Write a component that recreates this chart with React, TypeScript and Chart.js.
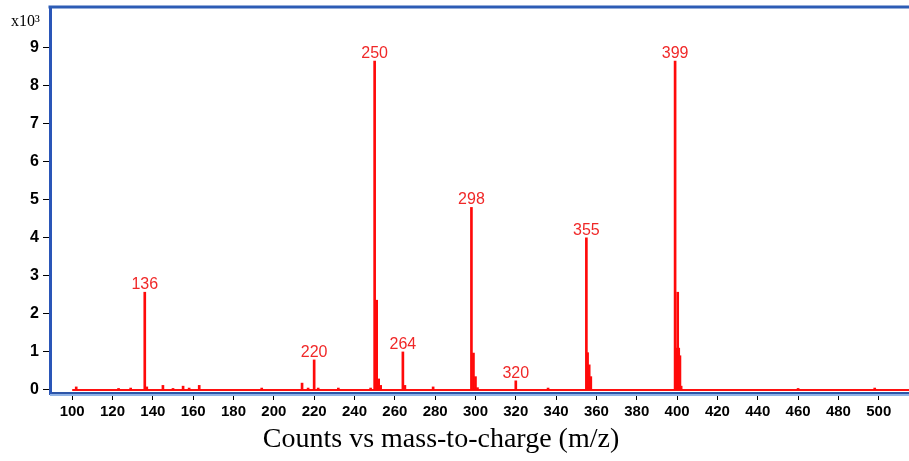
import React, { useEffect, useRef } from 'react';
import { Chart, registerables } from 'chart.js';

Chart.register(...registerables);

// m/z values of the spectrum sticks
const mzValues = [
  102, 123, 129, 136, 137, 145, 150, 155, 158, 163, 194, 214, 217, 220, 222, 232,
  248, 250, 251, 252, 253, 264, 265, 279, 298, 299, 300, 301, 320, 336,
  355, 355.6, 356.4, 357.2, 399, 399.7, 400.3, 400.8, 401.4, 402, 460, 498,
];
// intensities in x10^3 counts
const intensities = [
  0.08, 0.04, 0.05, 2.57, 0.08, 0.12, 0.04, 0.1, 0.05, 0.12, 0.05, 0.18, 0.05, 0.79, 0.05, 0.05,
  0.05, 8.65, 2.36, 0.29, 0.12, 1.0, 0.12, 0.08, 4.8, 0.97, 0.35, 0.06, 0.24, 0.05,
  4.0, 0.98, 0.66, 0.35, 8.65, 1.1, 2.57, 1.1, 0.9, 0.1, 0.04, 0.05,
];
// labelled peaks
const labelMz = [136, 220, 250, 264, 298, 320, 355, 399];
// baseline trace
const baselineX = [100, 515];
const baselineY = [0, 0];
// axes
const xTickValues = [100, 120, 140, 160, 180, 200, 220, 240, 260, 280, 300, 320, 340, 360, 380, 400, 420, 440, 460, 480, 500];
const yTickValues = [0, 1, 2, 3, 4, 5, 6, 7, 8, 9];
const xRange = [89, 515];
const yRange = [-0.08, 10.07];
const xTitle = 'Counts vs mass-to-charge (m/z)';
const yUnit = 'x10³';

const overlayPlugin = {
  id: 'overlay',
  afterDatasetsDraw(chart: any) {
    const { ctx, chartArea, scales } = chart;
    const xs = scales.x;
    const ys = scales.y;
    ctx.save();
    // top frame line
    ctx.strokeStyle = '#2d5cb5';
    ctx.lineWidth = 3;
    ctx.beginPath();
    ctx.moveTo(chartArea.left - 1.5, chartArea.top);
    ctx.lineTo(chartArea.right, chartArea.top);
    ctx.stroke();
    // light blue under x axis
    ctx.strokeStyle = '#8fb2e6';
    ctx.lineWidth = 2;
    ctx.beginPath();
    ctx.moveTo(chartArea.left, chartArea.bottom + 2);
    ctx.lineTo(chartArea.right, chartArea.bottom + 2);
    ctx.stroke();
    // peak labels
    ctx.fillStyle = '#f02828';
    ctx.font = "16px 'Liberation Sans', Arial, sans-serif";
    ctx.textAlign = 'center';
    ctx.textBaseline = 'alphabetic';
    labelMz.forEach((m) => {
      const idx = mzValues.indexOf(m);
      const v = intensities[idx];
      const px = xs.getPixelForValue(m);
      const py = ys.getPixelForValue(v);
      ctx.fillText(String(m), px, py - 3);
    });
    ctx.restore();
  },
  afterDraw(chart: any) {
    const { ctx } = chart;
    ctx.save();
    ctx.fillStyle = '#000';
    ctx.textAlign = 'center';
    ctx.textBaseline = 'middle';
    ctx.font = "28px 'Liberation Serif', 'Times New Roman', serif";
    ctx.fillText(xTitle, 441, 440);
    ctx.textAlign = 'left';
    ctx.textBaseline = 'alphabetic';
    ctx.font = "16px 'Liberation Serif', 'Times New Roman', serif";
    ctx.fillText(yUnit, 11, 26);
    ctx.restore();
  },
};

export default function App() {
  const ref = useRef<HTMLCanvasElement | null>(null);
  useEffect(() => {
    if (!ref.current) return;
    const barData = mzValues.map((m, i) => ({ x: m, y: intensities[i] }));
    const baseData = baselineX.map((m, i) => ({ x: m, y: baselineY[i] }));
    const chart = new Chart(ref.current, {
      type: 'bar',
      data: {
        datasets: [
          {
            type: 'line',
            data: baseData,
            borderColor: '#ff1010',
            borderWidth: 2,
            pointRadius: 0,
            order: 2,
          } as any,
          {
            type: 'bar',
            data: barData,
            backgroundColor: '#ff0a0a',
            borderWidth: 0,
            barThickness: 2,
            order: 1,
          } as any,
        ],
      },
      options: {
        animation: false,
        responsive: false,
        devicePixelRatio: 1,
        layout: { padding: { left: 0, top: 7, right: 0, bottom: 0 } },
        plugins: { legend: { display: false }, tooltip: { enabled: false }, title: { display: false } },
        scales: {
          x: {
            type: 'linear',
            min: xRange[0],
            max: xRange[1],
            offset: false,
            afterBuildTicks: (scale: any) => {
              scale.ticks = xTickValues.map((v) => ({ value: v }));
            },
            afterFit: (scale: any) => {
              scale.height = 68;
              scale.paddingLeft = 0;
              scale.paddingRight = 0;
            },
            grid: { display: true, drawOnChartArea: false, drawTicks: true, tickLength: 7, color: '#000', offset: false },
            border: { display: true, color: '#2d55a8', width: 3 },
            ticks: {
              color: '#000',
              padding: 3,
              maxRotation: 0,
              autoSkip: false,
              font: { family: "'Liberation Sans', Arial, sans-serif", size: 15, weight: 'bold' },
            },
          },
          y: {
            type: 'linear',
            min: yRange[0],
            max: yRange[1],
            afterBuildTicks: (scale: any) => {
              scale.ticks = yTickValues.map((v) => ({ value: v }));
            },
            afterFit: (scale: any) => {
              scale.width = 50;
              scale.paddingTop = 0;
              scale.paddingBottom = 0;
            },
            grid: { display: true, drawOnChartArea: false, drawTicks: true, tickLength: 7, color: '#000' },
            border: { display: true, color: '#2a56b8', width: 3 },
            ticks: {
              color: '#000',
              padding: 4,
              autoSkip: false,
              font: { family: "'Liberation Sans', Arial, sans-serif", size: 16, weight: 'bold' },
            },
          },
        },
      },
      plugins: [overlayPlugin],
    } as any);
    return () => chart.destroy();
  }, []);
  return (
    <div style={{ position: 'fixed', left: 0, top: 0, width: 909, height: 461, background: '#fff' }}>
      <canvas ref={ref} width={909} height={461} style={{ width: 909, height: 461, display: 'block' }} />
    </div>
  );
}
